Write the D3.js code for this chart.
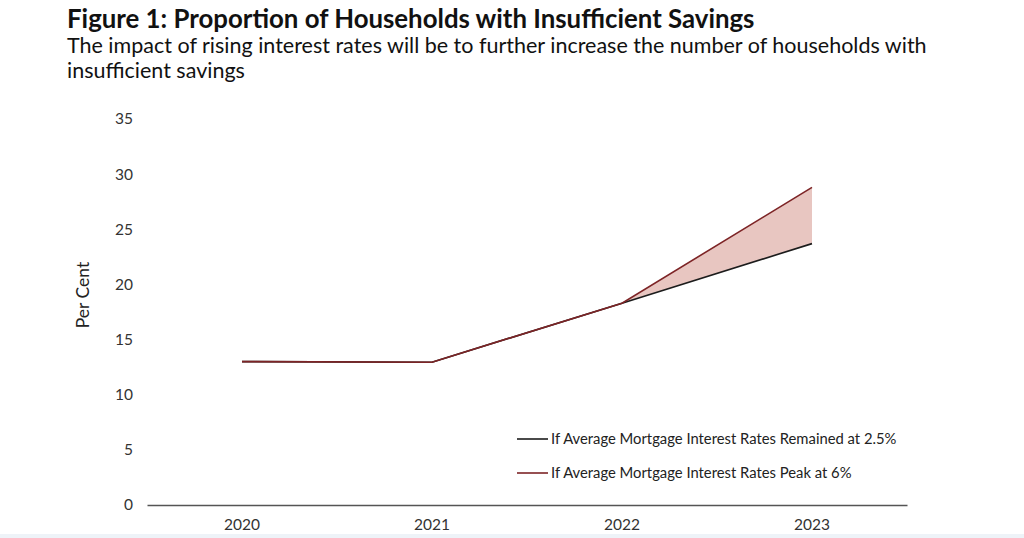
<!DOCTYPE html>
<html><head><meta charset="utf-8">
<script src="https://cdn.jsdelivr.net/npm/d3@7"></script>
<style>body{margin:0;background:#fff;}svg{display:block;font-family:Lato,"Open Sans",sans-serif;}</style>
</head><body>
<svg id="c" width="1024" height="538"></svg>
<script>
const years = ["2020","2021","2022","2023"];
const lowRate = [13.0, 12.95, 18.3, 23.7];
const highRate = [13.0, 12.95, 18.3, 28.8];
const yTicks = [0,5,10,15,20,25,30,35];
const seriesNames = ["If Average Mortgage Interest Rates Remained at 2.5%","If Average Mortgage Interest Rates Peak at 6%"];

const svg = d3.select("#c");
const red = "#7d2426", black = "#1c1c1c";

svg.append("rect").attr("x",0).attr("y",534).attr("width",1024).attr("height",4).attr("fill","#eef3f8");

svg.append("text").attr("x",67).attr("y",28).attr("font-size",25.8).attr("font-weight","bold").attr("fill","#111")
  .text("Figure 1: Proportion of Households with Insufficient Savings");
svg.append("text").attr("x",67).attr("y",53).attr("font-size",21.5).attr("fill","#111")
  .text("The impact of rising interest rates will be to further increase the number of households with");
svg.append("text").attr("x",67).attr("y",78).attr("font-size",21.5).attr("fill","#111")
  .text("insufficient savings");

const x = d3.scaleBand().domain(years).range([147,907]);
const y = d3.scaleLinear().domain([0,35]).range([505,119]);
const cx = d => x(d) + x.bandwidth()/2;

const ya = svg.append("g").attr("transform","translate(133,0)")
  .call(d3.axisLeft(y).tickValues(yTicks).tickSize(0).tickPadding(0));
ya.select(".domain").remove();
ya.selectAll("text").attr("font-size",15.5).attr("fill","#333").attr("font-family","Lato,sans-serif");

const xa = svg.append("g").attr("transform","translate(0,505)")
  .call(d3.axisBottom(x).tickSize(0).tickPadding(14));
xa.select(".domain").attr("stroke","#555").attr("stroke-width",1.5);
xa.selectAll("text").attr("font-size",15.5).attr("fill","#333").attr("font-family","Lato,sans-serif");

svg.append("text").attr("transform","translate(89,295) rotate(-90)").attr("text-anchor","middle")
  .attr("font-size",17.5).attr("fill","#222").text("Per Cent");

const data = years.map((yr,i)=>({yr, lo: lowRate[i], hi: highRate[i]}));
svg.append("path").datum(data)
  .attr("d", d3.area().x(d=>cx(d.yr)).y0(d=>y(d.lo)).y1(d=>y(d.hi)))
  .attr("fill","#e8c6c1");

svg.append("path").datum(data).attr("fill","none").attr("stroke",black).attr("stroke-width",1.6)
  .attr("d", d3.line().x(d=>cx(d.yr)).y(d=>y(d.lo)));
svg.append("path").datum(data).attr("fill","none").attr("stroke",red).attr("stroke-width",1.6)
  .attr("d", d3.line().x(d=>cx(d.yr)).y(d=>y(d.hi)));

const leg = [{c:black, t:seriesNames[0], yy:439},{c:red, t:seriesNames[1], yy:473}];
leg.forEach(l=>{
  svg.append("line").attr("x1",517).attr("x2",548).attr("y1",l.yy).attr("y2",l.yy).attr("stroke",l.c).attr("stroke-width",1.6);
  svg.append("text").attr("x",551).attr("y",l.yy+5).attr("font-size",14.8).attr("fill","#222").text(l.t);
});
</script>
</body></html>
